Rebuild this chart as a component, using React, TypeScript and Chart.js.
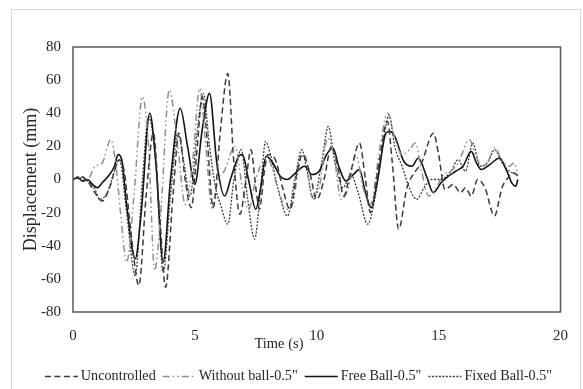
import { useEffect, useRef } from 'react';
import { Chart, registerables } from 'chart.js';

Chart.register(...registerables);

// Displacement histories, [time (s), displacement (mm)]
const uncontrolled: [number, number][] = [
  [0, 0], [0.3, 2], [0.6, -1], [0.9, -8], [1.2, -13], [1.5, -5], [1.9, 12], [2.1, 5], [2.4, -35], [2.7, -64],
  [3.0, -10], [3.3, 28], [3.55, -20], [3.8, -65], [4.1, -10], [4.35, 28], [4.6, 0], [4.85, -17], [5.1, 20], [5.3, 50],
  [5.5, 25], [5.75, -17], [6.05, 30], [6.35, 64], [6.6, 10], [6.85, -21], [7.1, 0], [7.3, 18], [7.5, -5], [7.65, -18],
  [7.85, 5], [8.0, 15], [8.3, 12], [8.6, -5], [8.9, -18], [9.2, 5], [9.4, 15], [9.7, 5], [10.0, -12], [10.3, 0],
  [10.6, 20], [10.9, 5], [11.1, -10], [11.4, 5], [11.75, 22], [12.0, 0], [12.2, -20], [12.55, 10], [12.9, 35], [13.1, 10],
  [13.36, -30], [13.7, -5], [14.05, 5], [14.3, 10], [14.79, 28], [15.0, 15], [15.26, -6], [15.6, -3], [15.9, -8], [16.1, -5],
  [16.34, -10], [16.6, 0], [16.9, -5], [17.29, -22], [17.6, -5], [17.9, 2], [18.1, 4], [18.25, 2],
];

const withoutBall: [number, number][] = [
  [0, 0], [0.3, 2], [0.6, 0], [0.9, 8], [1.2, 10], [1.55, 24], [1.75, 10], [1.95, -20], [2.2, -50], [2.5, -10],
  [2.85, 50], [3.1, 20], [3.35, -55], [3.6, -20], [3.95, 54], [4.3, 20], [4.6, -15], [4.9, 10], [5.2, 55], [5.45, 20],
  [5.7, -17], [5.95, 0], [6.2, 5], [6.65, 20], [6.95, -5], [7.2, -18], [7.5, 0], [7.75, 10], [8.0, 12], [8.4, -5],
  [8.75, -18], [9.0, -15], [9.3, 10], [9.5, 15], [9.8, -10], [10.1, -5], [10.45, 25], [10.7, 15], [11.0, -12], [11.3, -5],
  [11.6, 15], [11.9, -5], [12.2, -15], [12.6, 20], [12.9, 40], [13.2, 25], [13.5, 15], [13.8, 18], [14.05, 22], [14.3, 5],
  [14.6, -10], [14.9, -5], [15.2, 3], [15.5, 5], [15.8, 10], [16.27, 24], [16.5, 15], [16.8, 8], [17.0, 10], [17.29, 19],
  [17.6, 12], [17.9, 8], [18.1, 10], [18.25, 3],
];

const freeBall: [number, number][] = [
  [0, 0], [0.2, 1], [0.4, -1], [0.6, 0], [0.8, -3], [1.0, -5], [1.2, -2], [1.5, 3], [1.7, 8], [1.85, 15],
  [2.0, 12], [2.2, -15], [2.55, -48], [2.8, -20], [3.15, 40], [3.4, 10], [3.7, -50], [4.0, 0], [4.4, 43], [4.7, 20],
  [5.0, -3], [5.3, 30], [5.6, 52], [5.9, 10], [6.22, -10], [6.5, 2], [6.8, 14], [6.95, 15], [7.2, 0], [7.5, -18],
  [7.7, -5], [7.92, 14], [8.2, 10], [8.5, 2], [8.8, 0], [9.06, 3], [9.5, 8], [9.8, 3], [10.1, 5], [10.4, 15],
  [10.67, 19], [10.9, 8], [11.2, -1], [11.5, 3], [11.75, 6], [12.0, -8], [12.23, -17], [12.5, 0], [12.84, 28], [13.0, 29],
  [13.2, 26], [13.57, 11], [13.9, 8], [14.17, 13], [14.5, 2], [14.78, -8], [15.1, -2], [15.4, 2], [15.7, 5], [16.0, 8],
  [16.34, 17], [16.55, 10], [16.75, 6], [17.1, 9], [17.5, 13], [17.8, 5], [18.0, -2], [18.16, -4], [18.25, 0],
];

const fixedBall: [number, number][] = [
  [0, 0], [0.3, 1], [0.6, -1], [0.9, -6], [1.1, -12], [1.4, -8], [1.7, 5], [1.9, 12], [2.2, -20], [2.55, -58],
  [2.85, 0], [3.1, 38], [3.4, 10], [3.7, -56], [4.0, -10], [4.3, 28], [4.55, 10], [4.8, -10], [5.1, 30], [5.35, 52],
  [5.6, 20], [5.85, -5], [6.05, -15], [6.35, -27], [6.6, 0], [6.9, 18], [7.15, -10], [7.45, -36], [7.7, -5], [7.9, 23],
  [8.1, 15], [8.4, -5], [8.8, -22], [9.1, 0], [9.39, 18], [9.6, 5], [9.87, -12], [10.2, 10], [10.47, 32], [10.75, 10],
  [11.08, -5], [11.4, 3], [11.7, -8], [12.09, -27], [12.4, -10], [12.7, 20], [12.97, 39], [13.2, 20], [13.5, 8], [13.8, -5],
  [14.1, -12], [14.4, -5], [14.7, 0], [15.1, 0], [15.5, 5], [15.8, 12], [16.1, 5], [16.4, 22], [16.7, 8], [17.0, 10],
  [17.3, 18], [17.6, 10], [17.9, 5], [18.25, 3],
];

const seriesLabels = ['Uncontrolled', 'Without ball-0.5"', 'Free Ball-0.5"', 'Fixed Ball-0.5"'];
const yTickValues = [-80, -60, -40, -20, 0, 20, 40, 60, 80];
const xTickValues = [0, 5, 10, 15, 20];

const FONT = '"Liberation Serif", "Times New Roman", serif';
const TEXT = '#262626';

const toPoints = (arr: [number, number][]) => arr.map(([x, y]) => ({ x, y }));

// Paints the white card, its frame, the x-axis caption and the legend row.
const decorations = {
  id: 'decorations',
  beforeDraw(chart: Chart) {
    const { ctx, width, height } = chart;
    ctx.save();
    ctx.fillStyle = '#ffffff';
    ctx.fillRect(0, 0, width, height);
    ctx.strokeStyle = '#d9d9d9';
    ctx.lineWidth = 1;
    ctx.strokeRect(11.5, 9.5, 569, height + 10);
    ctx.restore();
  },
  afterDraw(chart: Chart) {
    const { ctx, chartArea } = chart;
    ctx.save();
    // plot frame
    ctx.strokeStyle = '#595959';
    ctx.lineWidth = 1.5;
    ctx.strokeRect(chartArea.left, chartArea.top, chartArea.right - chartArea.left, chartArea.bottom - chartArea.top);

    // x-axis caption
    const xs = chart.scales.x;
    ctx.fillStyle = TEXT;
    ctx.font = `14.5px ${FONT}`;
    ctx.textAlign = 'center';
    ctx.textBaseline = 'middle';
    ctx.fillText('Time (s)', xs.getPixelForValue(8.45), 344);

    // legend row
    ctx.font = `14.2px ${FONT}`;
    const lineLen = 33;
    const gapText = 3;
    const gapItem = 7;
    const widths = seriesLabels.map((s) => ctx.measureText(s).width);
    const total = widths.reduce((a, w) => a + lineLen + gapText + w, 0) + gapItem * (seriesLabels.length - 1);
    let x = 298.5 - total / 2;
    const y = 376;
    ctx.textAlign = 'left';
    chart.data.datasets.forEach((ds: any, i: number) => {
      ctx.save();
      ctx.strokeStyle = ds.borderColor;
      ctx.lineWidth = ds.borderWidth;
      ctx.setLineDash(ds.borderDash || []);
      ctx.beginPath();
      ctx.moveTo(x, y + 0.5);
      ctx.lineTo(x + lineLen, y + 0.5);
      ctx.stroke();
      ctx.restore();
      x += lineLen + gapText;
      ctx.fillStyle = TEXT;
      ctx.fillText(seriesLabels[i], x, y);
      x += widths[i] + gapItem;
    });
    ctx.restore();
  },
};

export default function App() {
  const canvasRef = useRef<HTMLCanvasElement | null>(null);

  useEffect(() => {
    document.body.style.margin = '0';
    const canvas = canvasRef.current;
    if (!canvas) return;

    const common = { pointRadius: 0, fill: false, cubicInterpolationMode: 'monotone' as const };
    const chart = new Chart(canvas, {
      type: 'line',
      data: {
        datasets: [
          { ...common, label: seriesLabels[0], data: toPoints(uncontrolled), borderColor: '#3a3a3a', borderWidth: 1.5, borderDash: [6, 3.5] },
          { ...common, label: seriesLabels[1], data: toPoints(withoutBall), borderColor: '#8f8f8f', borderWidth: 1.5, borderDash: [7, 3, 1.5, 3, 1.5, 3] },
          { ...common, label: seriesLabels[2], data: toPoints(freeBall), borderColor: '#141414', borderWidth: 1.6 },
          { ...common, label: seriesLabels[3], data: toPoints(fixedBall), borderColor: '#3c3c3c', borderWidth: 1.3, borderDash: [2, 1.5] },
        ],
      },
      options: {
        responsive: false,
        animation: false,
        events: [],
        layout: { padding: { top: 47, right: 16, bottom: 37, left: 0 } },
        plugins: {
          legend: { display: false },
          tooltip: { enabled: false },
        },
        scales: {
          x: {
            type: 'linear',
            min: 0,
            max: 20,
            afterFit: (s: any) => { s.height = 40; },
            afterBuildTicks: (s: any) => { s.ticks = xTickValues.map((v) => ({ value: v })); },
            grid: { display: false, drawTicks: false },
            border: { display: false },
            ticks: { padding: 15, color: TEXT, font: { family: FONT, size: 15 }, maxRotation: 0 },
          },
          y: {
            type: 'linear',
            min: -80,
            max: 80,
            afterFit: (s: any) => { s.width = 73; },
            afterBuildTicks: (s: any) => { s.ticks = yTickValues.map((v) => ({ value: v })); },
            grid: { display: false, drawTicks: false },
            border: { display: false },
            ticks: { padding: 12, color: TEXT, font: { family: FONT, size: 15 } },
            title: {
              display: true,
              text: 'Displacement (mm)',
              color: TEXT,
              font: { family: FONT, size: 18 },
              padding: { top: 20, bottom: 0 },
            },
          },
        },
      },
      plugins: [decorations],
    });
    return () => chart.destroy();
  }, []);

  return (
    <div style={{ width: 583, height: 389 }}>
      <canvas ref={canvasRef} width={583} height={389} />
    </div>
  );
}
